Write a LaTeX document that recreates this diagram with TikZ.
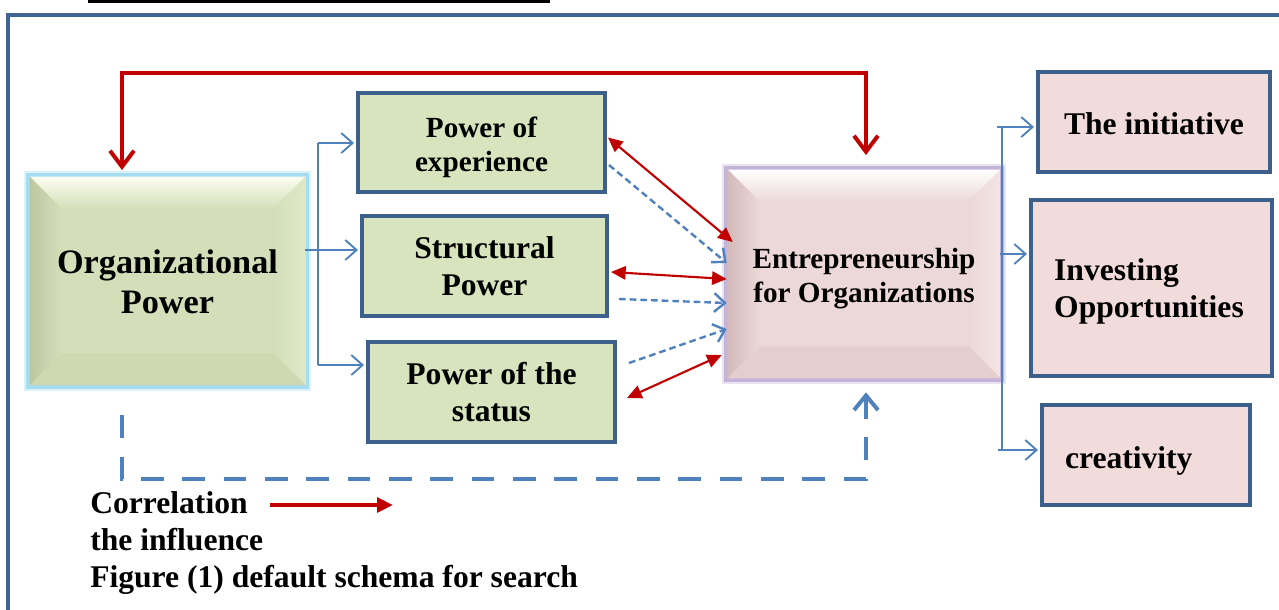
\documentclass[tikz,border=0pt]{standalone}
\usepackage{fontspec}
\setmainfont{Liberation Serif}
\usetikzlibrary{arrows.meta,calc,backgrounds}
\definecolor{frameblue}{RGB}{64,100,148}
\definecolor{boxborder}{RGB}{60,95,140}
\definecolor{boxgreen}{RGB}{216,228,190}
\definecolor{boxpink}{RGB}{242,220,219}
\definecolor{linkblue}{RGB}{79,129,189}
\definecolor{darkred}{RGB}{192,0,0}
\definecolor{orgbase}{RGB}{212,223,185}
\definecolor{orglight}{RGB}{252,253,240}
\definecolor{orgdark}{RGB}{190,198,160}
\definecolor{orgside}{RGB}{222,232,200}
\definecolor{orgbottom}{RGB}{206,217,178}
\definecolor{entbase}{RGB}{236,216,216}
\definecolor{entlight}{RGB}{255,255,255}
\definecolor{entdark}{RGB}{212,186,186}
\definecolor{entside}{RGB}{244,228,228}
\definecolor{entbottom}{RGB}{228,206,206}
\definecolor{cyanglow}{RGB}{140,212,236}
\definecolor{purpglow}{RGB}{180,160,208}
\newcommand\fbig{\fontsize{23.7pt}{27.75pt}\selectfont\bfseries}
\newcommand\forg{\fontsize{25.7pt}{30pt}\selectfont\bfseries}
\newcommand\fsml{\fontsize{21.9pt}{25.8pt}\selectfont\bfseries}
\newcommand\strt[1]{\rule{0pt}{#1}}
\newcommand\bevelbox[7]{%
  \draw[#7, line width=9pt, opacity=0.3] (#1.north west) rectangle (#1.south east);
  \draw[#7, line width=5pt, opacity=0.7] (#1.north west) rectangle (#1.south east);
  \fill[#2] (#1.north west) rectangle (#1.south east);
  \shade[top color=#3, bottom color=#2] (#1.north west) -- (#1.north east) -- ($(#1.north east)+(-32,32)$) -- ($(#1.north west)+(32,32)$) -- cycle;
  \shade[left color=#4, right color=#2] (#1.north west) -- ($(#1.north west)+(32,32)$) -- ($(#1.south west)+(32,-32)$) -- (#1.south west) -- cycle;
  \shade[left color=#2, right color=#5] (#1.north east) -- ($(#1.north east)+(-32,32)$) -- ($(#1.south east)+(-32,-32)$) -- (#1.south east) -- cycle;
  \fill[#6] (#1.south west) -- ($(#1.south west)+(32,-32)$) -- ($(#1.south east)+(-32,-32)$) -- (#1.south east) -- cycle;
}
\tikzset{
  gbox/.style={draw=boxborder, line width=3pt, fill=boxgreen, inner sep=0pt, align=center, font=\fbig},
  pbox/.style={draw=boxborder, line width=3pt, fill=boxpink, inner sep=0pt, align=center, font=\fbig},
  bigred/.style={draw=darkred, line width=3pt, {Straight Barb[length=12pt,width=18pt]}-{Straight Barb[length=12pt,width=18pt]}},
  thinblue/.style={draw=linkblue, line width=1.4pt},
  linkarrow/.style={draw=linkblue, line width=1.4pt, -{Straight Barb[length=8.5pt,width=15pt]}},
  dashlink/.style={draw=linkblue, line width=1.8pt, dash pattern=on 5pt off 3pt, -{Straight Barb[length=8pt,width=14pt]}},
  reddouble/.style={draw=darkred, line width=1.6pt, {Triangle[length=11pt,width=10pt]}-{Triangle[length=11pt,width=10pt]}},
  bigdash/.style={draw=linkblue, line width=3pt, dash pattern=on 17pt off 14pt, -{Straight Barb[length=11pt,width=18pt]}},
  legred/.style={draw=darkred, line width=3pt, -{Triangle[length=12pt,width=11pt]}},
  legtext/.style={inner sep=0pt, font=\fbig, anchor=base west}
}
\begin{document}
\begin{tikzpicture}[x=0.75pt,y=-0.75pt]
\useasboundingbox (0,0) rectangle (1279,610);
% top black rule and outer frame
\draw[line width=2.25pt] (88,1.5) -- (550,1.5);
\draw[draw=frameblue, line width=3pt] (8,615) -- (8,15) -- (1285,15);

% main nodes
\node[inner sep=0pt, align=center, font=\forg, minimum width=206.25pt, minimum height=156pt] (org) at (167.5,281) {\strt{19pt}Organizational\\Power};
\node[inner sep=0pt, align=center, font=\fsml, minimum width=204pt, minimum height=156pt] (ent) at (864,274) {\strt{21.8pt}Entrepreneurship\\for Organizations};
\begin{scope}[on background layer]
  \bevelbox{org}{orgbase}{orglight}{orgdark}{orgside}{orgbottom}{cyanglow}
  \bevelbox{ent}{entbase}{entlight}{entdark}{entside}{entbottom}{purpglow}
\end{scope}

\node[gbox, font=\fsml, minimum width=185.25pt, minimum height=74.25pt] (exp) at (481.5,142.5) {\strt{22.5pt}Power of\\experience};
\node[gbox, minimum width=183.75pt, minimum height=75pt] (str) at (484.5,266) {Structural\\Power};
\node[gbox, minimum width=185.25pt, minimum height=75pt] (sta) at (491.5,392) {Power of the\\status};

\node[pbox, minimum width=174pt, minimum height=75pt] (ini) at (1154,122) {\strt{19.2pt}The initiative};
\node[pbox, align=left, inner xsep=17.25pt, text width=146pt, minimum width=180.75pt, minimum height=132pt] (inv) at (1151.5,288) {\strt{22.2pt}Investing\\Opportunities};
\node[pbox, align=left, inner xsep=17.25pt, text width=121.5pt, minimum width=156pt, minimum height=75pt] (cre) at (1146,455) {\strt{25.2pt}creativity};

% top red loop
\coordinate (lt) at (122,73);
\coordinate (rt) at (866,73);
\draw[bigred, shorten <=5pt, shorten >=11pt] (lt |- org.north) -- (lt) -- (rt) -- (rt |- ent.north);

% left blue tree
\coordinate (lv1) at (318,143);
\coordinate (lv2) at (318,365);
\coordinate (lm) at (318,250);
\draw[thinblue] (lv1) -- (lv2);
\draw[linkarrow, shorten >=1.5pt] (lv1) -- (lv1 -| exp.west);
\draw[linkarrow, shorten >=1.5pt] (org.east |- lm) -- (lm -| str.west);
\draw[linkarrow, shorten >=1.5pt] (lv2) -- (lv2 -| sta.west);

% right blue tree
\coordinate (rv1) at (1002,128);
\coordinate (rv2) at (1002,450);
\coordinate (ra1) at (997,127);
\coordinate (ra2) at (1002,254);
\coordinate (ra3) at (998,450);
\draw[thinblue] (rv1) -- (rv2);
\draw[linkarrow, shorten >=1.5pt] (ra1) -- (ra1 -| ini.west);
\draw[linkarrow, shorten >=1.5pt] (ent.east |- ra2) -- (ra2 -| inv.west);
\draw[linkarrow, shorten >=1.5pt] (ra3) -- (ra3 -| cre.west);

% correlations (red double arrows)
\draw[reddouble] ($(exp.east)+(1,-5)$) -- ($(ent.west)+(5,-32)$);
\draw[reddouble] ($(str.east)+(2,6)$) -- ($(ent.west)+(-1,5)$);
\draw[reddouble] ($(sta.east)+(10,6)$) -- ($(ent.west)+(-6,81)$);

% influences (blue dashed)
\draw[dashlink] ($(exp.east)+(2,22.5)$) -- ($(ent.west)+(-1,-11)$);
\draw[dashlink] ($(str.east)+(10,33)$) -- ($(ent.west)+(-1,29)$);
\draw[dashlink] ($(sta.east)+(12,-29)$) -- ($(ent.west)+(-1,55)$);

% bottom dashed loop
\coordinate (lb) at (122,479);
\coordinate (rb) at (866,479);
\draw[bigdash, shorten <=22.5pt, shorten >=10.5pt] (lb |- org.south) -- (lb) -- (rb) -- (rb |- ent.south);

% legend
\node[legtext] (corr) at (90,513) {Correlation};
\node[legtext] (infl) at (90,550) {the influence};
\node[legtext] (fig) at (90,587) {Figure (1) default schema for search};
\coordinate (lgs) at (270,505);
\coordinate (lge) at (393,505);
\draw[legred] (lgs) -- (lge);
\end{tikzpicture}
\end{document}
